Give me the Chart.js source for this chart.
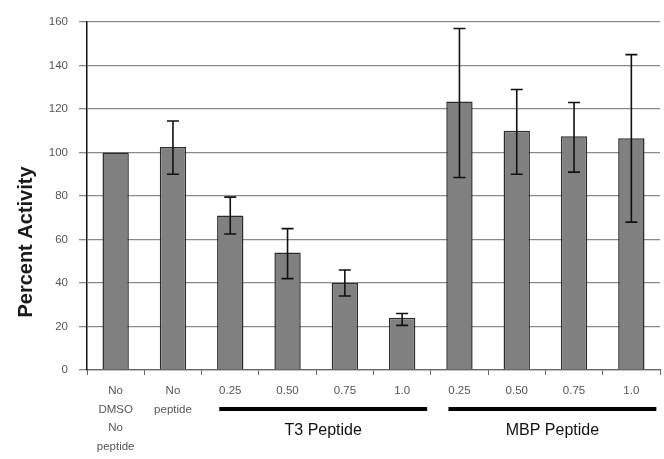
<!DOCTYPE html>
<html>
<head>
  <meta charset="utf-8">
  <script src="https://cdn.jsdelivr.net/npm/chart.js@4.4.1/dist/chart.umd.min.js"></script>
  <style>
    html, body { margin: 0; padding: 0; background: #fff; }
    #wrap { width: 664px; height: 459px; }
  </style>
</head>
<body>
  <div id="wrap"><canvas id="activity"></canvas></div>

  <script>
    // categories (multi-line tick labels)
    const categories = [
      ["No", "DMSO", "No", "peptide"], ["No", "peptide"],
      "0.25", "0.50", "0.75", "1.0",
      "0.25", "0.50", "0.75", "1.0"
    ];
    // mean percent activity
    const activity = [100, 102.5, 71, 54, 40, 24, 123.5, 110, 107.5, 106.5];
    // error bar ends
    const errLow  = [100, 90, 62.5, 42, 34, 20.5, 88.5, 90, 91, 68];
    const errHigh = [100, 114.5, 79.5, 65, 46, 26, 157, 129, 123, 145];
    const yTicks = [0, 20, 40, 60, 80, 100, 120, 140, 160];
    const yTitle = "Percent Activity";
    // group brackets under the axis: [first index, last index, label]
    const groups = [[2, 5, "T3 Peptide"], [6, 9, "MBP Peptide"]];

    // error bars drawn through the scales
    const errorBars = {
      id: "errorBars",
      afterDatasetsDraw(chart) {
        const ctx = chart.ctx, x = chart.scales.x, y = chart.scales.y;
        ctx.save();
        ctx.strokeStyle = "#111";
        ctx.lineWidth = 1.6;
        errLow.forEach(function(lo, i) {
          const hi = errHigh[i];
          if (hi === lo) return;
          const cx = x.getPixelForValue(i);
          const yl = y.getPixelForValue(lo), yh = y.getPixelForValue(hi);
          ctx.beginPath();
          ctx.moveTo(cx, yl); ctx.lineTo(cx, yh);
          ctx.moveTo(cx - 6, yl); ctx.lineTo(cx + 6, yl);
          ctx.moveTo(cx - 6, yh); ctx.lineTo(cx + 6, yh);
          ctx.stroke();
        });
        ctx.restore();
      }
    };

    // black brackets, group names and the y title
    const groupLabels = {
      id: "groupLabels",
      afterDraw(chart) {
        const ctx = chart.ctx, x = chart.scales.x;
        const base = chart.chartArea.bottom;
        ctx.save();
        groups.forEach(function(g) {
          const x0 = x.getPixelForValue(g[0]) - 11;
          const x1 = x.getPixelForValue(g[1]) + 25;
          ctx.fillStyle = "#000";
          ctx.fillRect(x0, base + 37, x1 - x0, 4);
          ctx.fillStyle = "#111";
          ctx.font = "16px 'Liberation Sans', Arial, sans-serif";
          ctx.textAlign = "center";
          ctx.textBaseline = "middle";
          ctx.fillText(g[2], (x0 + x1) / 2, base + 61);
        });
        // rotated axis title
        ctx.translate(26, 242);
        ctx.rotate(-Math.PI / 2);
        ctx.fillStyle = "#1a1a1a";
        ctx.font = "bold 20px 'Liberation Sans', Arial, sans-serif";
        ctx.textAlign = "center";
        ctx.textBaseline = "middle";
        ctx.fillText(yTitle, 0, 0);
        ctx.restore();
      }
    };

    new Chart(document.getElementById("activity"), {
      type: "bar",
      data: {
        labels: categories,
        datasets: [{
          data: activity,
          backgroundColor: "#808080",
          borderColor: "#2b2b2b",
          borderWidth: 1.5,
          barPercentage: 0.46,
          categoryPercentage: 1.0
        }]
      },
      options: {
        responsive: true,
        maintainAspectRatio: false,
        animation: false,
        layout: { padding: { top: 22, right: 4, left: 0, bottom: 0 } },
        plugins: {
          legend: { display: false },
          tooltip: { enabled: false }
        },
        scales: {
          x: {
            afterFit: function(scale) { scale.height = 89; },
            grid: {
              offset: true,
              drawOnChartArea: false,
              drawTicks: true,
              tickLength: 5,
              color: "#666"
            },
            border: { color: "#666", width: 1.2 },
            ticks: {
              color: "#555",
              font: { family: "'Liberation Sans', Arial", size: 11.5, lineHeight: 1.6 },
              maxRotation: 0,
              autoSkip: false,
              padding: 7
            }
          },
          y: {
            min: 0,
            max: 160,
            afterFit: function(scale) { scale.width = 87; },
            afterBuildTicks: function(scale) {
              scale.ticks = yTicks.map(function(v) { return { value: v }; });
            },
            grid: {
              color: "#8a8a8a",
              lineWidth: 1.3,
              tickLength: 8
            },
            border: { color: "#111", width: 1.5 },
            ticks: {
              color: "#555",
              font: { family: "'Liberation Sans', Arial", size: 11.5 },
              padding: 11
            }
          }
        }
      },
      plugins: [errorBars, groupLabels]
    });
  </script>
</body>
</html>
